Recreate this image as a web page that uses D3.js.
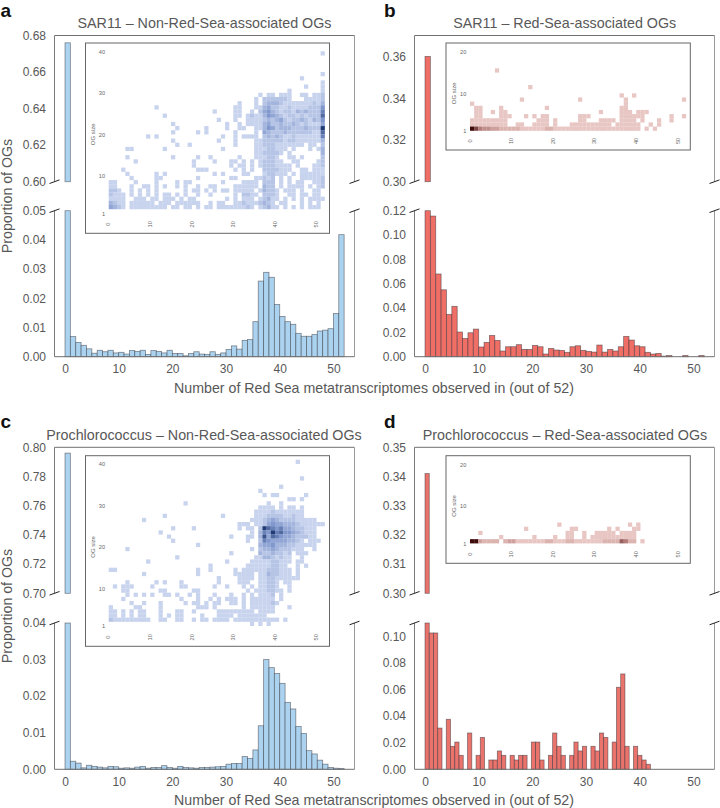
<!DOCTYPE html>
<html><head><meta charset="utf-8">
<script src="https://cdn.jsdelivr.net/npm/d3@7"></script>
<style>
html,body{margin:0;padding:0;background:#fff}
svg{display:block}
text{font-family:"Liberation Sans",Arial,sans-serif}
</style></head><body>
<svg id="chart" width="720" height="808"></svg>
<script>
// ---------- data ----------
const barsA = [0.676,.0069,.0049,.0039,.0027,.0012,.0022,.0017,.0022,.0013,.0015,.0009,.0021,.0018,.0022,.0008,.0021,.0018,.0013,.0022,.0011,.0011,.0003,.0011,.0017,.0009,.0008,.0017,.0008,.0013,.0025,.0037,.0026,.0056,.0059,.012,.0259,.0289,.0272,.0179,.0138,.012,.0111,.008,.007,.007,.0076,.0088,.0091,.0096,.0148,.0418];
const barsB = [0.36,.1156,.068,.055,.0348,.0414,.0203,.015,.0197,.0227,.008,.0118,.0175,.0134,.0047,.0082,.0082,.0099,.006,.006,.0093,.0082,.0022,.0068,.0055,.0052,.0036,.0082,.009,.0052,.0044,.0038,.0096,.0038,.006,.0047,.0082,.0167,.0137,.009,.0082,.0036,.0022,.0027,.0005,.001,0,0,.001,0,0,.001];
const barsC = [0.796,.0022,.0017,.0004,.0011,.0008,.0006,.0004,.0008,.0007,.0003,.0004,.0003,.0006,.0008,.0003,.0005,.0005,.001,.0005,.0003,.0008,.0005,.0004,.0003,.0005,.0005,.0006,.0007,.0008,.0014,.0016,.0016,.0035,.003,.0053,.0119,.03,.0278,.0262,.0235,.0183,.0165,.0117,.0098,.0051,.0042,.0025,.0014,.0005,.0003,.0002];
const barsD = [0.341,.1025,.1025,.031,0,.0376,.0173,.0205,.0105,0,.0273,0,.0105,.024,0,.007,.007,.0138,.0105,0,.0105,.007,.0105,.0105,0,.0205,.0205,.007,0,.0105,.0273,.0173,.0105,0,.0105,.0205,.0138,.0173,0,.0173,.0138,.0273,.024,0,.0205,.0617,.0717,.0173,0,.0173,.0105,.007,.0038];
const binA = 1, binB = 1, binC = 1, binD = 42 / 53;

// inset grids: [OG size row, levels per column 0..51, grouped in tens]
const gridA = [
[39,".......... .......... .......... .......... .......... .1"],
[34,".......... .......... .......... .......... .......... .1"],
[33,".......... .......... .......... .......... ......1..."],
[32,".......... .......... .......... .......... .......... .1"],
[31,".......... .......... .......... .......... .......1.. .1"],
[30,".......... .......... .......... .......... ...1...... .1"],
[29,".......... .......... .......... ......1.11 .111..11.1 12"],
[28,".......... .......... .......... .....1.222 2221...111 12"],
[27,".......... .......... .......... .1...1.233 3211111112 13"],
[26,".......... .1........ .......... 11...11342 2112111122 25"],
[25,".......... .......... .....1.... 11..1.2453 2122132322 26"],
[24,".......... ...1...... .......... 11.1211354 3212212122 27"],
[23,".......... .......... ......1... 1..1111232 3421223213 25"],
[22,".......... .....1.... ........1. .1.1111342 2322321211 14"],
[21,".......... ......1... ...1....1. .11..11354 2333222322 29"],
[20,".......... .....1.... .1.1...... 1....1.432 2232222221 17"],
[19,".........1 .1........ .......1.. 1.1111.232 3211211111 16"],
[18,".......... .....1.... ......1... 1....11222 2212211111 13"],
[17,".......... ......1..1 .......... 1....11222 1111111.11 .2"],
[16,"....11.... ...1...... .......1.. .....11122 111.1...1. 13"],
[15,".......... .......... .......... .....11222 21.1...... .3"],
[14,"....1..... .....1.... .1..1..... .1...11122 1..11.1... .2"],
[13,"......1... .......... 1....1...1 1.1.1.1222 11..11.... 12"],
[12,".......... .......... 1........1 .11.1.1222 1111.1...1 12"],
[11,"...1...... .......... .111...... 1.1.1..222 2111..11.1 11"],
[10,"....1..... .1.1...... .....1.1.. ..11...122 111.1.1111 11"],
[9, ".....1.... .11....... .1.......1 1....11212 .1.1..1111 12"],
[8, "11....1... .1....1.11 .......1.. ..1111.222 .1.1.11..1 12"],
[7, "11...1..11 .1.1..1.1. .1..11.... 111111.322 .1.1111.1. 12"],
[6, "221..1.1.1 .1......1. 11.1.1.11. 11111.1322 1.111.1..1 1"],
[5, "2111.1.1.1 .1.11.1.1. .1..1..... 1.2211.222 1..11.11.1 1"],
[4, "1111..111. 11.111.1.1 1.......1. 1.111.1231 1.1.1.1.11 11"],
[3, "3211.11111 1.111.1111 11..1.11.. 1121112321 .11...1.1. 1"],
[2, "4321.11111 1111.11.11 .1.11.1111 11121.1231 1.1.1.1.11 1"]
];
const gridB = [
[15,"......1"],
[11,".......... ....1"],
[9, ".......... .......... .......... ......1..1"],
[8, ".......... ..1....... ......1... .......1.. .......... .1"],
[7, "1......... .......... .......... .......1"],
[6, ".11....1.. ........1. .......... ......11"],
[5, ".11..1.11. .......... .......... .1....111. 111"],
[4, ".11....111 ...1.1.11. ......111. ......1111 11......1. .1"],
[3, "111111111. ......111. 1.....11.. .1111.1111 .1...1..1"],
[2, "111111111. .11..1111. 1...111111 1111.11111 1..1.1"],
[1, "9754433222 2211111122 1111111111 1111111111 1.1.1"]
];
const gridC = [
[40,".......... .......... .......... .......... .....1"],
[36,".......... .......... .......... .......... ......1"],
[34,".......... .......... .......... .......... .1"],
[33,".......... .......... .......... ......1"],
[32,".......... .......... .......... .......1.1 1......1"],
[31,".......... .......... .......... .......... ...11.1"],
[30,".......... ........1. .......... ........1. .1"],
[29,".......... .......... .......... ......1111 .1.11.1"],
[28,".......... .......... .......... .....11112 1111111"],
[27,".......... ...1...... .......1.. .....11122 2211211"],
[26,"........1. .......... .......... ....111234 3222211111"],
[25,".......... .......... .......... .111.11245 4433321111 11"],
[24,".......... .....1.... 1......... .1.11.2976 5644322111"],
[23,".......... ..1....... .......... ....1.3659 6755432111"],
[22,".......... ....1..... .........1 ...11.3847 6544322211"],
[21,".......... .....1.... .......... ...1..2654 4443321.11 1"],
[20,".......... .......... .1........ ......3445 3332211111"],
[19,"....1..... .......... .......... ....1.2334 3222111..1"],
[18,".......... .......... .........1 ......3223 2212.111"],
[17,".......... ......1... .......... .....11332 1211..1"],
[16,".........1 .......... ........1. ....111112 2111.11"],
[15,".......... .......... ....1..... ...1111112 211..1.1"],
[14,"11........ .......... .1..1..... 1.11111122 2111.1"],
[13,"........1. .......... .1........ 11111.1132 2111.1"],
[12,".......... .......... ......1... .1111.1122 111111"],
[11,"....1..... .1.1...1.. ......1... .111..1122 1.11"],
[10,".1.111.... 1......11. .....1..1. ..1.1.1122 1..1"],
[9, "...11..... ..11...... 11........ ...1.11122 11.1"],
[8, "....1.1.1. 1..11.1..1 .1...1...1 ..1.1.1112 .1"],
[7, "...1...... .......1.. .1..1.1.11 1.1.111111 .1"],
[6, ".....1..1. ..1.....1. 11.1.11..1 1.1.111112 1"],
[5, "1.....11.. ..1....... .111.1.... ..1.111111 ...1"],
[4, "11.1.1.11. ..1...11.. 1.....1111 11111.1111"],
[3, "11.1.1.11. ..1.1.11.. ..1...1111 .1111111"],
[2, "2111111111 ..11..11.. 1.11.1111. 1111111111 1.1"],
[1, ".......... .......... .......... ....1.1.1"]
];
const gridD = [
[5, ".......... .......... .1........ ........1. 1"],
[4, ".......... ...1...... ....11.... ...1.1...1 1"],
[3, "..1....... .......... ...11..1.. 11111.1111"],
[2, ".......1.. .....1.... 1..11..1.1 1111111111"],
[1, "9932222.23 3111111122 1112211111 1122226522 .1"]
];
const ticksX = [0,10,20,30,40,50];
const insetTicksX = [0,10,20,30,40,50];
const blueRamp = ["#c8d3ee","#7f97cc","#203b76"];
const redRamp = ["#e8c6c3","#b47c78","#3f0c0c"];

const titles = ["SAR11 – Non-Red-Sea-associated OGs","SAR11 – Red-Sea-associated OGs","Prochlorococcus – Non-Red-Sea-associated OGs","Prochlorococcus – Red-Sea-associated OGs"];
const letters = ["a","b","c","d"];
const xTitle = "Number of Red Sea metatranscriptomes observed in (out of 52)";
const yTitle = "Proportion of OGs";

// ---------- layout ----------
const svg = d3.select("#chart");
const TXT = "#585858";
const panels = [
 {id:"a",bars:barsA,bin:binA,grid:gridA,fill:"#abd3ef",ramp:blueRamp,title:titles[0],tx:204.5,ty:28,lx:0.5,lb:17,
  left:54.5,x0:65,top:35.5,upBot:181.7,loTop:210.7,loBot:356.7,upDom:[.60,.68],upTicks:[.60,.62,.64,.66,.68],loDom:[0,.05],loTicks:[0,.01,.02,.03,.04,.05],
  inset:{x0:85.5,x1:329.5,y0:43,y1:233.3,gx:108.7,y1px:213.3,yTicks:[1,10,20,30,40],ogAt:20}},
 {id:"b",bars:barsB,bin:binB,grid:gridB,fill:"#ef6e66",ramp:redRamp,title:titles[1],tx:564.7,ty:28,lx:384,lb:17,
  left:414.5,x0:425,top:35.5,upBot:181.7,loTop:210.7,loBot:356.7,upDom:[.30,.37],upTicks:[.30,.32,.34,.36],loDom:[0,.12],loTicks:[0,.02,.04,.06,.08,.10,.12],
  inset:{x0:446,x1:690.3,y0:43,y1:150,gx:470,y1px:130.7,yTicks:[1,10,20],ogAt:10}},
 {id:"c",bars:barsC,bin:binC,grid:gridC,fill:"#abd3ef",ramp:blueRamp,title:titles[2],tx:204,ty:440,lx:0.5,lb:428,
  left:54.5,x0:65,top:447.3,upBot:593.3,loTop:623,loBot:769.3,upDom:[.70,.80],upTicks:[.70,.72,.74,.76,.78,.80],loDom:[0,.04],loTicks:[0,.01,.02,.03,.04],
  inset:{x0:85.5,x1:329.5,y0:455.7,y1:646.3,gx:108.7,y1px:625.9,yTicks:[1,10,20,30,40],ogAt:20}},
 {id:"d",bars:barsD,bin:binD,grid:gridD,fill:"#ea736c",ramp:redRamp,title:titles[3],tx:565,ty:440,lx:384,lb:428,
  left:414.5,x0:425,top:447.3,upBot:593.3,loTop:623,loBot:769.3,upDom:[.30,.35],upTicks:[.30,.31,.32,.33,.34,.35],loDom:[0,.11],loTicks:[0,.02,.04,.06,.08,.10],
  inset:{x0:446,x1:690.3,y0:455.7,y1:563.3,gx:470,y1px:543.3,yTicks:[1,10,20],ogAt:10}}
];
const PANEL_W = 300, UNIT = 5.368, CELL = 4.155;

function spine(g,x1,y1,x2,y2,col){ g.append("line").attr("x1",x1).attr("y1",y1).attr("x2",x2).attr("y2",y2).attr("stroke",col).attr("stroke-width",1); }

panels.forEach(p=>{
  const g = svg.append("g").attr("class","panel-"+p.id);
  const right = p.left + PANEL_W;
  const x = d3.scaleLinear().domain([0,52]).range([p.x0,p.x0+52*UNIT]);
  const yU = d3.scaleLinear().domain(p.upDom).range([p.upBot,p.top]);
  const yL = d3.scaleLinear().domain(p.loDom).range([p.loBot,p.loTop]);
  const barStroke = "rgba(45,45,55,.55)";

  // bars, lower segment
  g.append("g").selectAll("rect").data(p.bars.map((v,i)=>({v,i})).filter(d=>d.v>0)).join("rect")
    .attr("x",d=>x(d.i*p.bin)).attr("width",x(p.bin)-x(0))
    .attr("y",d=>yL(Math.min(d.v,p.loDom[1]))).attr("height",d=>yL(0)-yL(Math.min(d.v,p.loDom[1])))
    .attr("fill",p.fill).attr("stroke",barStroke).attr("stroke-width",.8);
  // bars, upper segment
  g.append("g").selectAll("rect").data(p.bars.map((v,i)=>({v,i})).filter(d=>d.v>p.upDom[0])).join("rect")
    .attr("x",d=>x(d.i*p.bin)).attr("width",x(p.bin)-x(0))
    .attr("y",d=>yU(d.v)).attr("height",d=>yU(p.upDom[0])-yU(d.v))
    .attr("fill",p.fill).attr("stroke",barStroke).attr("stroke-width",.8);

  // spines
  spine(g,p.left,p.top,right,p.top,"#707070");
  spine(g,p.left,p.top,p.left,p.upBot,"#7a7a7a");
  spine(g,right,p.top,right,p.upBot,"#9a9a9a");
  spine(g,p.left,p.loTop,p.left,p.loBot,"#7a7a7a");
  spine(g,right,p.loTop,right,p.loBot,"#9a9a9a");
  spine(g,p.left,p.loBot,right,p.loBot,"#707070");

  // break marks
  [p.left,right].forEach(sx=>{
    [p.upBot,p.loTop].forEach(sy=>{
      spine(g,sx-5,sy+1.8,sx+5,sy-1.8,"#222");
    });
  });

  // axes
  const axL = g.append("g").attr("transform",`translate(${p.left},0)`).call(d3.axisLeft(yL).tickValues(p.loTicks).tickSize(0).tickPadding(8.5).tickFormat(d3.format(".2f")));
  const axU = g.append("g").attr("transform",`translate(${p.left},0)`).call(d3.axisLeft(yU).tickValues(p.upTicks).tickSize(0).tickPadding(8.5).tickFormat(d3.format(".2f")));
  const axB = g.append("g").attr("transform",`translate(0,${p.loBot})`).call(d3.axisBottom(x).tickValues(ticksX).tickSize(0).tickPadding(8).tickFormat(d3.format("d")));
  [axL,axU,axB].forEach(a=>{a.select(".domain").remove();a.selectAll("text").attr("fill",TXT).style("font-size","12px").style("font-family","'Liberation Sans',Arial,sans-serif");});

  // title and letter
  g.append("text").attr("x",p.tx).attr("y",p.ty).attr("text-anchor","middle").attr("fill",TXT).style("font-size","14.3px").text(p.title);
  g.append("text").attr("x",p.lx).attr("y",p.lb).attr("fill","#111").style("font-size","19px").style("font-weight","bold").text(letters[panels.indexOf(p)]);

  // inset
  const I = p.inset;
  const ig = g.append("g");
  ig.append("rect").attr("x",I.x0).attr("y",I.y0).attr("width",I.x1-I.x0).attr("height",I.y1-I.y0).attr("fill","#fff").attr("stroke","#666").attr("stroke-width",1);
  const gx = d3.scaleLinear().domain([0,52]).range([I.gx,I.gx+52*CELL]);
  const gy = d3.scaleLinear().domain([1,40]).range([I.y1px,I.y1px-39*CELL]);
  const col = d3.scaleLinear().domain([1,5,9]).range(p.ramp).interpolate(d3.interpolateRgb);
  const cells = [];
  p.grid.forEach(([r,s])=>{
    s.replace(/ /g,"").split("").forEach((c,i)=>{ if(c!=="."){cells.push({r,i,l:+c});} });
  });
  ig.append("g").selectAll("rect").data(cells).join("rect")
    .attr("x",d=>gx(d.i)).attr("width",CELL+.1)
    .attr("y",d=>gy(d.r+1)).attr("height",CELL+.1)
    .attr("fill",d=>col(d.l));
  const iyAx = ig.append("g").attr("transform",`translate(${I.gx-3.7},0)`).call(d3.axisLeft(gy).tickValues(I.yTicks).tickSize(0).tickPadding(0).tickFormat(d3.format("d")));
  iyAx.select(".domain").remove();
  iyAx.selectAll("text").attr("fill","#666").style("font-size","5.6px").style("font-family","'Liberation Sans',Arial,sans-serif");
  ig.append("g").selectAll("text").data(insetTicksX).join("text")
    .attr("transform",d=>`translate(${gx(d)},${I.y1-9}) rotate(-90)`)
    .attr("text-anchor","middle").attr("dy","0.32em").attr("fill","#666").style("font-size","5.6px").text(d=>d);
  ig.append("text").attr("transform",`translate(${I.gx-16},${gy(I.ogAt)}) rotate(-90)`)
    .attr("text-anchor","middle").attr("dy","0.32em").attr("fill","#666").style("font-size","6px").text("OG size");
});

// shared labels
[[392.7],[804.7]].forEach(([y])=>{
  svg.append("text").attr("x",374).attr("y",y).attr("text-anchor","middle").attr("fill",TXT).style("font-size","14.2px").text(xTitle);
});
[[196],[606]].forEach(([cy])=>{
  svg.append("text").attr("transform",`translate(12,${cy}) rotate(-90)`).attr("text-anchor","middle").attr("fill",TXT).style("font-size","14.2px").text(yTitle);
});
</script>
</body></html>
